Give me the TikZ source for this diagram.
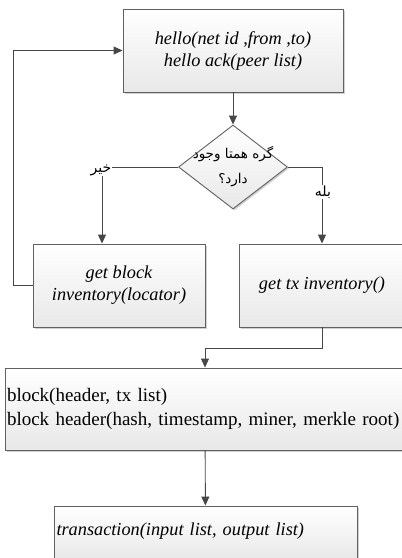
\documentclass[tikz,border=0pt]{standalone}
\usepackage{fontspec}
\setmainfont{Liberation Serif}
\newfontfamily\persianfont[Script=Arabic]{DejaVu Sans}
\TeXXeTstate=1
\usetikzlibrary{arrows.meta,shapes.geometric,shadows}
\colorlet{bordo}{black!62}
\colorlet{freccia}{black!72}
\colorlet{fondo}{black!9}
\newcommand{\boxfont}{\fontsize{18.3}{22}\selectfont}

\begin{document}
\begin{tikzpicture}[x=1pt,y=-1pt,
  >={Triangle[length=9pt,width=8pt]},
  box/.style={draw=bordo,line width=0.9pt,top color=white,bottom color=fondo,
    drop shadow={shadow xshift=1.5pt,shadow yshift=-1.5pt,fill=black!18,opacity=1},
    font=\boxfont,align=center,inner sep=2pt},
  decision/.style={diamond,draw=bordo,line width=0.9pt,top color=white,bottom color=fondo,
    drop shadow={shadow xshift=1.5pt,shadow yshift=-1.5pt,fill=black!18,opacity=1},
    inner sep=0pt,minimum width=109pt,minimum height=84pt,shape aspect=1.3},
  flow/.style={->,draw=freccia,line width=0.9pt},
  answer/.style={fill=white,inner sep=1pt,font=\persianfont\fontsize{14}{16}\selectfont}]
\clip (0,0) rectangle (402,558);
\fill[white] (0,0) rectangle (402,558);
% caselle
\node[box,font=\boxfont\itshape,minimum width=220pt,minimum height=83pt] (hello) at (233,50.5)
  {hello(net id ,from ,to)\\ hello ack(peer list)};
\node[decision,label={[font=\persianfont\fontsize{13.5}{25}\selectfont,align=center]center:{\beginR گره همتا وجود\endR\\\beginR دارد؟\endR}}] (check) at (233,167) {};
\node[box,font=\boxfont\itshape,minimum width=172pt,minimum height=83pt] (getblock) at (119,285.5)
  {get block\\ inventory(locator)};
\node[box,font=\boxfont\itshape,minimum width=166pt,minimum height=83pt] (gettx) at (322,285.5)
  {get tx inventory()};
\node[box,font=\fontsize{19}{24}\selectfont,text width=396pt,align=left,inner xsep=1.5pt,minimum width=400pt,minimum height=82pt] (block) at (205,409)
  {block(header, tx list)\\ block header(hash, timestamp, miner, merkle root)};
\node[box,font=\boxfont\itshape,text width=298pt,align=left,inner xsep=1.5pt,text depth=8pt,minimum width=303pt,minimum height=54pt] (trans) at (205.5,533)
  {transaction(input list, output list)};
% collegamenti
\coordinate (nocorner) at (102,167);
\coordinate (loopcorner) at (13,285.5);
\coordinate (joint) at (322,348);
\draw[flow] (hello) -- (check);
\draw[flow] (check.west) -- (nocorner) -- (nocorner |- getblock.north);
\draw[flow] (check.east) -| (gettx.north);
\draw[flow] (getblock.west) -- (loopcorner) |- (hello.west);
\draw[flow] (gettx.south) -- (joint) -| (block.north);
\draw[flow] (block) -- (trans);
\node[answer] (no) at (101,170) {\beginR خیر\endR};
\node[answer] (yes) at (323,192) {\beginR بله\endR};
\end{tikzpicture}
\end{document}
